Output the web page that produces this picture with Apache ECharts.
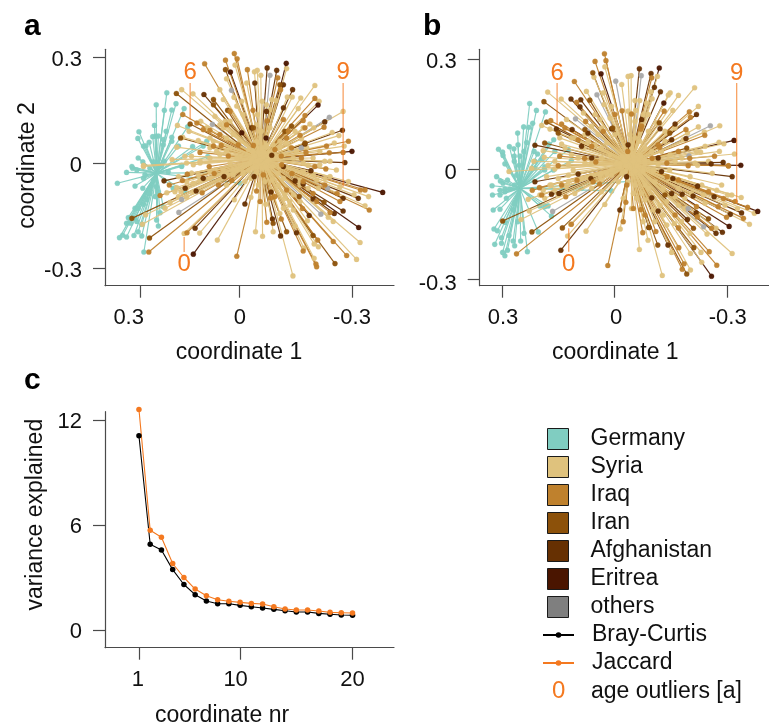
<!DOCTYPE html>
<html>
<head>
<meta charset="utf-8">
<style>html,body{margin:0;padding:0;background:#fff}#c{width:769px;height:727px}</style>
<script src="https://cdn.jsdelivr.net/npm/echarts@6/dist/echarts.min.js"></script>
</head>
<body>
<div id="c"></div>
<script>
const countries = ['Germany','Syria','Iraq','Iran','Afghanistan','Eritrea','others'];
const legendColors = ['#80CDC1','#DFC27D','#BF812D','#8C510A','#663002','#4A1500','#7F7F7F'];
const pointColors = ['#80CDC1','#DFC27D','#BF812D','#8C510A','#663002','#4A1500','#A8A8A8'];

// Panel a: coordinate 1, coordinate 2 per sample
const aGermany = [[.224,.200],[.254,.166],[.175,.155],[.198,.169],[.231,.150],[.210,.151],[.303,.089],[.306,.070],[.259,.107],[.165,.103],[.226,.090],[.264,.075],[.255,.076],[.248,.077],[.234,.067],[.210,.073],[.290,.048],[.283,.049],[.274,.059],[.234,.052],[.210,.062],[.305,.014],[.292,.003],[.262,.003],[.251,.001],[.231,.005],[.182,-.007],[.151,.047],[.121,.048],[.108,.018],[.111,.062],[.191,.048],[.364,-.058],[.314,-.066],[.292,-.072],[.321,-.015],[.309,-.020],[.290,-.044],[.286,-.034],[.262,-.049],[.253,-.068],[.248,-.082],[.257,-.096],[.272,-.087],[.281,-.104],[.290,-.118],[.234,-.125],[.314,-.129],[.305,-.129],[.243,-.142],[.333,-.156],[.314,-.158],[.253,-.163],[.248,-.180],[.338,-.172],[.326,-.172],[.309,-.167],[.295,-.175],[.305,-.196],[.295,-.208],[.317,-.207],[.358,-.213],[.349,-.206],[.338,-.211],[.289,-.254],[.206,-.072],[.173,-.082],[.017,-.058],[.338,-.027],[.272,-.015],[.182,-.010],[.220,-.025],[.239,-.009],[.323,-.010],[-.058,-.027]];
const aSyria = [[.182,.209],[.150,.197],[.055,.240],[.031,.279],[.074,.209],[.064,.181],[.034,.187],[.194,.107],[.161,.090],[.128,.119],[.088,.133],[.179,.073],[.196,.045],[.173,.019],[.209,.010],[.290,-.007],[.135,.064],[.059,.119],[.074,.109],[.092,.062],[.102,.043],[.055,.071],[.154,.019],[.130,.000],[.083,.033],[.045,.043],[-.002,.228],[.026,.162],[-.024,.260],[-.032,.264],[-.042,.250],[-.115,.269],[-.195,.221],[-.207,.176],[-.155,.185],[-.148,.155],[-.275,.147],[-.131,.188],[-.117,.188],[-.085,.178],[-.046,.176],[-.073,.181],[-.058,.166],[-.068,.152],[-.032,.138],[-.181,.111],[-.192,.100],[-.244,.087],[-.263,.078],[-.250,.057],[-.278,.048],[-.162,.100],[-.139,.090],[-.115,.057],[-.096,.043],[-.157,.069],[-.223,.005],[-.176,-.007],[-.040,.090],[-.058,.052],[-.021,.033],[-.209,.033],[-.068,.010],[.293,-.175],[.284,-.148],[.229,-.129],[.215,-.113],[.175,-.201],[.131,-.200],[.081,-.220],[.033,-.105],[.224,-.085],[.196,-.070],[.184,-.082],[.168,-.098],[.168,-.072],[.149,-.082],[.191,-.039],[.154,-.029],[.130,-.049],[.102,-.025],[.055,-.034],[.026,-.020],[.003,-.053],[.290,-.010],[-.133,-.322],[-.027,-.196],[-.047,-.209],[-.077,-.196],[-.014,-.098],[-.056,-.118],[-.096,-.144],[-.124,-.110],[-.139,-.180],[-.174,-.165],[-.233,-.155],[-.247,-.167],[-.323,-.227],[-.313,-.275],[-.205,-.239],[-.193,-.231],[-.164,-.243],[-.193,-.272],[-.337,-.122],[-.347,-.096],[-.290,-.053],[-.306,-.091],[-.238,-.039],[-.200,-.049],[-.153,-.063],[-.110,-.091],[-.073,-.077],[-.035,-.063],[-.162,-.025],[-.266,-.068],[-.106,-.044],[-.134,-.091],[-.091,-.029],[.036,-.020],[.008,-.025],[-.007,-.022],[-.030,-.029],[-.058,-.015],[.045,-.001],[.017,.018],[-.007,.037],[-.030,.056],[-.058,.047],[-.087,.018],[-.096,-.010],[-.040,.009],[-.049,.018],[-.035,.023],[-.025,-.001],[-.054,-.001],[-.021,.013],[-.068,.009],[-.044,-.010],[-.011,-.001],[-.035,-.006],[-.058,.023]];
const aSyriaDense = [[-.014,-.044],[-.030,-.025],[-.054,-.053],[-.073,-.049],[-.091,-.063],[-.110,-.101],[-.124,-.120],[-.106,-.129],[-.134,-.134],[-.153,-.110],[-.120,-.077],[-.153,-.049],[-.176,-.072],[-.205,-.072],[-.224,-.044],[-.190,-.034],[-.256,-.020],[-.030,.109],[-.044,.090],[-.068,.100],[-.030,.062],[-.049,.043],[-.077,.052],[-.096,.062],[-.124,.043],[-.106,.024],[-.068,.024],[-.040,.024],[-.143,.033],[-.172,.043],[-.190,.014],[-.134,.014],[-.162,.000],[-.209,-.005],[-.238,.005],[.074,.024],[.055,.033],[.102,.014],[.130,.005],[.026,.014],[.017,.062],[.036,.081],[.064,.100],[.102,.071],[.111,.100],[.045,.119],[.008,.138],[.012,.176],[.149,-.005],[.168,.000],[.064,-.020],[.036,-.034],[.102,-.044],[.149,-.058],[.168,-.053],[.201,-.082],[.191,-.096],[.088,-.020],[.055,-.063],[.008,-.030],[.135,-.034],[-.020,.030],[-.070,.030],[-.075,-.010],[-.020,-.015],[-.045,.040],[-.045,-.015],[-.060,.005],[-.030,.005],[-.015,.010],[-.080,.020],[-.050,.030],[-.035,.030],[-.055,-.010],[-.030,-.012],[-.065,.020],[-.025,.020]];
const aIraq = [[.058,.293],[.025,.297],[.117,.283],[.033,.312],[-.004,.266],[.179,.138],[.139,.114],[.102,.093],[.055,.109],[.022,.052],[.092,.048],[.074,.081],[.121,.095],[.045,.147],[-.090,.243],[-.098,.209],[-.195,.184],[-.167,.135],[-.162,.121],[-.221,.102],[-.290,.062],[-.275,.030],[-.236,.029],[-.228,.048],[-.167,.100],[-.153,.079],[-.106,.124],[-.082,.038],[-.021,.050],[-.129,.043],[-.115,.071],[-.157,.014],[-.195,-.010],[-.101,-.005],[.275,-.254],[.167,-.199],[.026,-.266],[.243,-.093],[.166,-.032],[.217,-.063],[.124,-.085],[.078,-.063],[.104,-.010],[-.059,-.169],[-.200,-.296],[-.198,-.288],[-.162,-.251],[-.203,-.220],[-.247,-.224],[-.285,-.264],[-.349,-.134],[-.337,-.077],[-.324,-.077],[-.266,-.110],[-.226,-.017],[-.258,-.087],[-.238,-.141],[-.190,-.087],[-.115,-.077],[-.049,-.034],[-.040,-.110],[-.082,-.096],[-.162,-.053],[-.223,-.063],[-.060,.120],[-.120,.090],[-.020,.150],[.070,.050],[.130,.030],[.050,.020],[-.100,.020],[-.170,.030],[-.130,-.030],[-.070,-.100],[-.160,-.130],[-.100,-.160],[-.200,-.110],[.090,-.030],[.180,-.050],[.040,-.050],[-.030,-.080]];
const aIran = [[.197,.198],[.158,.111],[.185,.071],[.058,.266],[.092,.166],[.052,.150],[.092,.181],[-.096,.223],[-.167,.057],[-.129,.105],[-.110,.090],[-.021,.100],[.273,-.214],[.323,-.158],[-.252,-.287],[-.077,-.172],[-.115,-.196],[-.190,-.207],[-.221,-.112],[-.151,-.096]];
const aAfghanistan = [[.119,.195],[-.060,.271],[-.087,.264],[-.132,.209],[-.223,.117],[-.273,.093],[-.280,.001],[-.167,.054],[-.016,.100],[-.073,.022],[-.106,.223],[-.025,.228],[-.058,.147],[-.106,.157],[.232,-.051],[.144,-.186],[.172,-.072],[.141,-.080],[.062,-.039],[.121,-.044],[.003,-.117],[-.075,-.160],[-.098,-.208],[-.190,-.103],[-.275,-.137],[-.318,-.101],[-.275,-.101],[-.250,-.144],[-.179,-.150],[-.106,-.010],[-.184,-.022],[-.139,-.051],[-.162,-.060],[-.071,-.083],[-.023,-.039],[-.143,-.199]];
const aEritrea = [[.044,.259],[-.114,.284],[.149,-.260],[-.387,-.084],[-.319,-.184],[.012,.086],[-.300,.033],[-.204,.165],[-.057,.071]];
const aOthers = [[.041,.207],[.095,.110],[-.068,.250],[-.236,.130],[-.157,.043],[.190,-.141],[.182,-.104],[-.212,-.146],[-.231,-.072]];
const aCentroids = [[.253,-.029],[-.045,.012],[-.040,.012],[-.035,.010],[-.040,.010],[-.045,.010],[-.045,.010]];

// Panel b
const bGermany = [[.226,.180],[.208,.161],[.184,.157],[.242,.116],[.228,.115],[.218,.126],[.258,.099],[.162,.081],[.175,.069],[.280,.062],[.309,.055],[.298,.047],[.268,.056],[.257,.067],[.234,.073],[.214,.049],[.241,.049],[.205,.042],[.297,.038],[.292,.015],[.267,.036],[.252,.036],[.267,.022],[.254,.011],[.193,.026],[.159,.049],[.123,.054],[.115,.024],[.212,.022],[.326,-.045],[.314,-.020],[.304,-.032],[.285,-.029],[.297,-.038],[.325,-.070],[.305,-.057],[.292,-.061],[.305,-.070],[.292,-.054],[.279,-.054],[.266,-.043],[.261,-.016],[.323,-.111],[.305,-.109],[.288,-.079],[.266,-.093],[.270,-.111],[.186,-.102],[.177,-.100],[.199,-.100],[.168,-.128],[.203,-.171],[.241,-.175],[.258,-.143],[.292,-.145],[.321,-.163],[.312,-.168],[.281,-.181],[.301,-.187],[.319,-.205],[.301,-.202],[.266,-.209],[.250,-.196],[.270,-.196],[.298,-.227],[.285,-.221],[.292,-.236],[.232,-.225],[.088,-.052],[.008,-.059],[.186,-.002],[.163,-.002],[.212,.003],[.186,.007],[-.072,-.031]];
const bSyria = [[.178,.211],[.142,.192],[.075,.213],[.026,.280],[.055,.252],[.028,.177],[.194,.120],[.172,.110],[.128,.136],[.083,.154],[.039,.136],[.061,.118],[.141,.069],[.190,.051],[.187,.033],[.215,.022],[.106,.086],[.070,.077],[.044,.095],[.008,.172],[.030,.209],[.132,.058],[.159,.022],[.097,.031],[.123,.013],[.035,.058],[.177,.011],[.079,.017],[-.019,.232],[-.036,.254],[-.044,.256],[-.114,.254],[-.213,.223],[-.223,.172],[-.170,.202],[-.148,.209],[-.143,.203],[-.155,.161],[-.097,.212],[-.100,.193],[-.054,.188],[-.067,.188],[-.085,.181],[-.056,.161],[-.044,.152],[-.280,.119],[-.223,.116],[-.239,.102],[-.278,.074],[-.291,.070],[-.279,.049],[-.319,.042],[-.229,.047],[-.218,.049],[-.194,.099],[-.183,.081],[-.134,.077],[-.112,.127],[-.090,.150],[-.161,.022],[-.221,.011],[-.054,.086],[-.081,.058],[-.250,.022],[.281,-.006],[.230,-.082],[.249,-.137],[.227,-.114],[.125,-.182],[.076,-.169],[.117,-.150],[.026,-.096],[-.015,-.163],[-.023,-.079],[.190,-.057],[.186,-.079],[.168,-.043],[.150,-.070],[.128,-.047],[.110,-.002],[.181,-.020],[.221,.003],[.070,-.024],[.035,-.029],[.008,-.016],[.159,.001],[.123,-.034],[-.127,-.290],[-.066,-.219],[-.089,-.194],[-.313,-.230],[-.246,-.177],[-.270,-.161],[-.202,-.275],[-.232,-.254],[-.202,-.230],[-.152,-.227],[-.201,-.175],[-.159,-.148],[-.372,-.120],[-.359,-.150],[-.337,-.077],[-.301,-.070],[-.272,-.057],[-.236,-.070],[-.201,-.020],[-.260,-.011],[-.103,-.005],[-.147,-.002],[-.241,-.093],[-.327,-.107],[-.170,-.098],[-.081,-.084],[-.139,-.088],[-.130,-.125],[-.103,-.111],[-.076,-.143],[-.139,-.152],[-.230,-.227],[-.294,-.098],[-.050,-.066],[-.081,-.043],[.004,-.002],[-.014,.007],[-.032,.035],[-.050,.044],[-.067,.035],[-.081,.016],[-.076,-.002],[-.050,-.006],[-.023,-.006],[-.045,.026],[-.054,.016],[-.036,.012],[-.041,.003],[-.059,.030],[-.028,.021],[-.063,.007],[-.005,.016],[-.103,-.002],[.021,-.011],[.039,-.016]];
const bSyriaDense = [[-.036,-.034],[-.054,-.043],[-.072,-.066],[-.090,-.052],[-.107,-.034],[-.130,-.052],[-.143,-.025],[-.170,-.052],[-.187,-.079],[-.161,-.075],[-.205,-.066],[-.232,-.043],[-.285,-.043],[-.312,-.070],[-.223,-.125],[-.187,-.107],[-.178,-.143],[-.121,-.098],[-.107,-.143],[-.059,-.079],[-.045,-.107],[-.041,.095],[-.067,.077],[-.090,.104],[-.099,.049],[-.067,.040],[-.045,.058],[-.125,.049],[-.148,.040],[-.179,.031],[-.214,.017],[-.116,.013],[-.081,.022],[-.050,.022],[-.161,.113],[-.134,.104],[-.241,.063],[-.054,.131],[-.036,.159],[-.076,.150],[.012,.040],[.035,.031],[.061,.017],[.021,.072],[.052,.067],[.083,.058],[.115,.040],[.079,.095],[.035,.113],[.012,.140],[-.001,.095],[.052,.150],[.115,.086],[.146,.086],[.008,-.002],[.035,-.011],[.061,-.016],[.088,-.025],[.123,-.016],[.150,-.025],[.172,-.043],[.199,-.070],[.061,-.052],[.035,-.061],[-.010,-.034],[.106,-.066],[.159,-.057],[-.020,.035],[-.070,.035],[-.075,-.005],[-.020,-.010],[-.045,.045],[-.045,-.012],[-.060,.010],[-.030,.010],[-.015,.015],[-.080,.025],[-.050,.035],[-.035,.035],[-.055,-.005],[-.030,-.005],[-.065,.025],[-.025,.025]];
const bIraq = [[.107,.240],[.052,.295],[.027,.316],[.023,.297],[.170,.133],[.141,.124],[.101,.183],[.077,.131],[.030,.104],[.132,.113],[.061,.063],[.097,.081],[-.001,.150],[.146,.036],[-.099,.250],[-.199,.157],[-.202,.142],[-.190,.109],[-.240,.093],[-.266,.036],[-.303,.010],[-.196,.010],[-.132,.159],[-.072,.118],[-.045,.151],[-.139,.017],[-.116,.067],[-.170,.049],[-.035,.049],[.261,-.231],[.018,-.263],[.115,-.150],[.219,-.057],[.194,-.070],[.130,-.075],[.057,-.034],[.141,-.043],[-.023,-.143],[-.075,-.173],[-.272,-.262],[-.252,-.225],[-.185,-.258],[-.180,-.273],[-.171,-.214],[-.343,-.134],[-.354,-.104],[-.298,-.131],[-.321,-.088],[-.258,-.161],[-.161,-.125],[-.276,-.102],[-.218,-.102],[-.050,-.107],[-.081,-.125],[-.170,-.029],[-.250,-.061],[-.033,-.043],[-.303,.009],[-.070,.110],[-.120,.060],[-.020,.160],[.080,.030],[.150,.010],[.050,.020],[-.100,.030],[-.200,.030],[-.140,-.020],[-.070,-.110],[-.170,-.160],[-.110,-.170],[-.220,-.130],[.100,-.030],[.200,-.050],[.040,-.040],[-.030,-.090],[-.290,-.080]];
const bIran = [[.188,.185],[.058,.264],[.181,.129],[.150,.099],[.066,.189],[.186,.072],[.079,.109],[.005,.113],[-.147,.099],[-.192,.058],[-.119,.127],[.220,-.171],[.298,-.141],[.139,-.160],[-.211,-.214],[-.192,-.286],[-.115,-.207],[-.092,-.159],[-.210,-.161],[-.250,-.135],[-.134,-.070]];
const bAfghanistan = [[.116,.192],[.090,.190],[.092,.171],[.113,.109],[.071,.099],[.212,.066],[.088,.063],[.155,.110],[.008,.111],[.061,.031],[-.066,.275],[-.097,.262],[-.122,.212],[-.106,.224],[-.218,.150],[-.161,.124],[-.289,.019],[-.257,.015],[-.121,.111],[-.190,.084],[-.152,.081],[-.072,.136],[-.036,.067],[-.116,.031],[.143,-.221],[-.014,-.111],[.168,-.068],[.148,-.066],[.063,-.025],[.097,-.013],[.212,-.034],[-.091,-.159],[-.142,-.207],[-.287,-.172],[-.270,-.175],[-.338,-.119],[-.308,-.123],[-.194,-.137],[-.217,-.119],[-.209,-.073],[-.180,-.068],[-.152,-.066],[-.221,-.046],[-.155,-.025],[-.125,-.006],[-.313,-.020],[-.265,-.075],[-.116,-.114],[-.032,-.020],[-.099,-.078]];
const bEritrea = [[.036,.261],[-.119,.277],[-.131,.181],[-.318,.079],[-.336,.011],[-.258,-.292],[-.305,-.156],[-.381,-.115]];
const bOthers = [[.047,.204],[.104,.138],[-.003,.241],[-.071,.256],[-.255,.119],[-.198,.037],[.165,-.115],[-.237,-.157],[-.196,-.107]];
const bCentroids = [[.252,-.052],[-.045,.016],[-.040,.016],[-.036,.014],[-.040,.014],[-.045,.014],[-.045,.014]];

const aSets = [aGermany,aSyria.concat(aSyriaDense),aIraq,aIran,aAfghanistan,aEritrea,aOthers];
const bSets = [bGermany,bSyria.concat(bSyriaDense),bIraq,bIran,bAfghanistan,bEritrea,bOthers];

// Age outliers: x, line top, line bottom, label y
const outlierLabels = ['6','9','0'];
const aOutliers = [[.158,.228,.123,.257],[-.275,.228,-.068,.257],[.175,-.211,-.254,-.289]];
const bOutliers = [[.153,.236,.121,.263],[-.325,.236,-.092,.263],[.122,-.161,-.225,-.260]];

// Panel c
const coordNr = [1,2,3,4,5,6,7,8,9,10,11,12,13,14,15,16,17,18,19,20];
const brayCurtis = [11.1,4.9,4.57,3.45,2.6,2.02,1.66,1.5,1.5,1.41,1.33,1.26,1.18,1.1,1.03,1.03,.95,.9,.86,.84];
const jaccard = [12.6,5.7,5.3,3.8,3.0,2.34,1.96,1.73,1.64,1.58,1.52,1.49,1.33,1.2,1.14,1.14,1.09,1.01,.99,.97];

// Axis ticks and where their labels sit
const aXTicks=[.3,.019,-.3], aXLabelAt=[.332,.017,-.300], coordLabels=['0.3','0','-0.3'];
const aYTicks=[.3,0,-.3], aYLabelAt=[.293,-.008,-.308];
const bXTicks=[.3,0,-.3], bXLabelAt=[.297,-.004,-.301];
const bYTicks=[.3,0,-.3], bYLabelAt=[.293,-.009,-.313];
const cXTicks=[1,10,20], cXLabelAt=[.9,9.6,20], cXLabels=['1','10','20'];
const cYTicks=[0,6,12], cYLabelAt=[-.1,5.9,11.9], cYLabels=['0','6','12'];

const FONT='"Liberation Sans", Arial, sans-serif', AXC='#4a4a4a', ORANGE='#F47920', FS=22, NFS=23;

function labelFor(at,labels){return v=>{let b=0;at.forEach((a,i)=>{if(Math.abs(a-v)<Math.abs(at[b]-v))b=i});return labels[b]}}
function axis(o){
  return Object.assign({type:'value',scale:true,splitLine:{show:false},
    axisLine:{show:true,onZero:false,lineStyle:{color:AXC,width:1.2}},
    axisTick:{show:true,length:12,customValues:o.ticks,lineStyle:{color:AXC,width:1.2}},
    axisLabel:{customValues:o.at,formatter:labelFor(o.at,o.labels),fontFamily:FONT,fontSize:FS,color:'#111',margin:o.margin,hideOverlap:false,showMinLabel:true,showMaxLabel:true},
    nameLocation:'middle',nameTextStyle:{fontFamily:FONT,fontSize:NFS,color:'#111',padding:o.namePad||0},nameGap:o.nameGap
  },o.extra);
}
const xa=(g,min,max,ticks,at,labels,name,pad,inv,gap)=>axis({ticks,at,labels,margin:21,nameGap:gap,namePad:pad,extra:{gridIndex:g,min,max,inverse:inv,name,position:'bottom'}});
const ya=(g,min,max,ticks,at,labels,name,gap,pad)=>axis({ticks,at,labels,margin:23,nameGap:gap,namePad:pad,extra:{gridIndex:g,min,max,name,position:'left'}});

function starSeries(sets,centroids,idx){
  return sets.map((pts,c)=>({
    type:'custom',name:countries[c],xAxisIndex:idx,yAxisIndex:idx,coordinateSystem:'cartesian2d',
    data:pts,clip:false,z:3,silent:true,
    renderItem:(params,api)=>{
      const p=api.coord([api.value(0),api.value(1)]), o=api.coord(centroids[c]);
      const lz=c===0?1:c===1?9:9-c, cz=c===0?2:c===1?10:16-c;
      return {type:'group',children:[
        {type:'line',z2:lz,shape:{x1:o[0],y1:o[1],x2:p[0],y2:p[1]},style:{stroke:pointColors[c],lineWidth:1.15,opacity:.95}},
        {type:'circle',z2:cz,shape:{cx:p[0],cy:p[1],r:2.55},style:{fill:pointColors[c],stroke:pointColors[c],lineWidth:.3,opacity:.95}}
      ]};
    }
  }));
}
function outlierSeries(data,idx){
  return {type:'custom',name:'age outliers [a]',xAxisIndex:idx,yAxisIndex:idx,data,clip:false,z:5,silent:true,
    renderItem:(params,api)=>{
      const a=api.coord([api.value(0),api.value(1)]), b=api.coord([api.value(0),api.value(2)]), t=api.coord([api.value(0),api.value(3)]);
      return {type:'group',children:[
        {type:'line',shape:{x1:a[0],y1:a[1],x2:b[0],y2:b[1]},style:{stroke:ORANGE,lineWidth:1.2,opacity:.75}},
        {type:'text',x:t[0],y:t[1],style:{text:outlierLabels[params.dataIndex],fill:ORANGE,fontFamily:FONT,fontSize:24,align:'center',verticalAlign:'middle'}}
      ]};
    }};
}
const lineSeries=(name,vals,color)=>({type:'line',name,xAxisIndex:2,yAxisIndex:2,data:coordNr.map((n,i)=>[n,vals[i]]),clip:false,
  symbol:'circle',symbolSize:5.5,showSymbol:true,lineStyle:{color,width:1.1},itemStyle:{color},z:3,silent:true});

const letter=(t,left,top)=>({text:t,left,top,padding:0,textStyle:{fontFamily:FONT,fontSize:30,fontWeight:'bold',color:'#000'}});
const chart=echarts.init(document.getElementById('c'),null,{renderer:'canvas',width:769,height:727});
chart.setOption({
  animation:false,backgroundColor:'#fff',tooltip:{show:false},
  title:[letter('a',24,12),letter('b',423,12),letter('c',24,366)],
  grid:[{left:105,top:49.3,width:289,height:236.4,outerBoundsMode:'none'},{left:479.7,top:49.3,width:289.3,height:236.4,outerBoundsMode:'none'},{left:105,top:411.7,width:289,height:236,outerBoundsMode:'none'}],
  xAxis:[
    xa(0,-.419,.399,aXTicks,aXLabelAt,coordLabels,'coordinate 1',[0,21,0,0],true,55),
    xa(1,-.411,.359,bXTicks,bXLabelAt,coordLabels,'coordinate 1',[0,18,0,0],true,55),
    xa(2,-2.02,23.69,cXTicks,cXLabelAt,cXLabels,'coordinate nr',[0,55,0,0],false,56)
  ],
  yAxis:[
    ya(0,-.35,.324,aYTicks,aYLabelAt,coordLabels,'coordinate 2',66,[0,0,0,4]),
    ya(1,-.318,.328,bYTicks,bYLabelAt,coordLabels,'',66,0),
    ya(2,-1.01,12.47,cYTicks,cYLabelAt,cYLabels,'variance explained',58,[0,0,0,30])
  ],
  legend:[
    {data:countries.map((n,i)=>({name:n,icon:'rect',itemStyle:{color:legendColors[i],borderColor:'#1a1a1a',borderWidth:1,opacity:1}})),
      orient:'vertical',left:547,top:427.5,itemWidth:21,itemHeight:21,itemGap:5,selectedMode:false,padding:0,
      textStyle:{fontFamily:FONT,fontSize:NFS,color:'#111',lineHeight:21,padding:[0,0,0,17]}},
    {data:['Bray-Curtis','Jaccard'],orient:'vertical',left:542,top:623.5,itemWidth:31,itemHeight:7,itemGap:5,selectedMode:false,padding:0,
      textStyle:{fontFamily:FONT,fontSize:NFS,color:'#111',lineHeight:21,padding:[0,0,0,13]}},
    {data:[{name:'age outliers [a]',icon:'none'}],orient:'vertical',left:537,top:679.5,itemWidth:0,itemHeight:21,selectedMode:false,padding:0,
      formatter:n=>'{z|0}{t|'+n+'}',
      textStyle:{rich:{z:{fontFamily:FONT,fontSize:24,color:ORANGE,width:39,align:'left',padding:[0,0,0,10]},t:{fontFamily:FONT,fontSize:NFS,color:'#111'}}}}
  ],
  series:[
    ...starSeries(aSets,aCentroids,0),
    ...starSeries(bSets,bCentroids,1),
    outlierSeries(aOutliers,0),
    outlierSeries(bOutliers,1),
    lineSeries('Bray-Curtis',brayCurtis,'#000'),
    lineSeries('Jaccard',jaccard,ORANGE)
  ]
});
</script>
</body>
</html>
